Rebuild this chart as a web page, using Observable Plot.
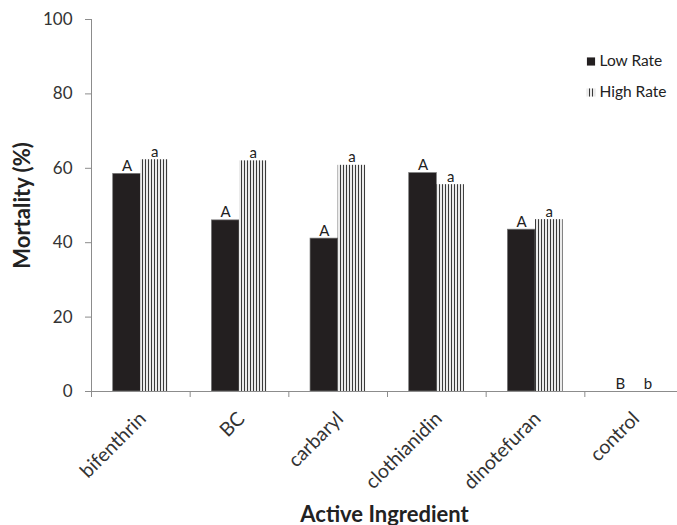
<!DOCTYPE html>
<html>
<head>
<meta charset="utf-8">
<script src="https://cdn.jsdelivr.net/npm/d3@7"></script>
<script src="https://cdn.jsdelivr.net/npm/@observablehq/plot@0.6"></script>
<style>
  html, body { margin: 0; padding: 0; background: white; }
</style>
</head>
<body>
<div id="chart"></div>
<script>
const categories = ["bifenthrin", "BC", "carbaryl", "clothianidin", "dinotefuran", "control"];
const lowRate = [58.5, 46.0, 41.1, 58.7, 43.5, 0];
const highRate = [62.3, 62.0, 60.8, 55.6, 46.2, 0];
const lowLetters = ["A", "A", "A", "A", "A", "B"];
const highLetters = ["a", "a", "a", "a", "a", "b"];
const yTicks = [0, 20, 40, 60, 80, 100];
const seriesNames = ["Low Rate", "High Rate"];

const data = categories.map((c, i) => ({
  category: c, low: lowRate[i], high: highRate[i],
  lowLetter: lowLetters[i], highLetter: highLetters[i]
}));

const W = 677, H = 525;
const xRange = [91, 683];
const pInner = 0.44;
const step = (xRange[1] - xRange[0]) / categories.length;
const half = step * (1 - pInner) / 2;
const axisColor = "#8c8c8c";
const textColor = "#333";

const chart = Plot.plot({
  width: W, height: H,
  marginLeft: 91, marginRight: 0, marginTop: 19, marginBottom: 134,
  style: { fontFamily: "Lato, 'Open Sans', sans-serif", background: "white", overflow: "visible" },
  x: { domain: categories, range: xRange, paddingInner: pInner, paddingOuter: pInner / 2, round: false, label: null },
  y: { domain: [0, 100], ticks: yTicks, label: null },
  marks: [
    Plot.barY(data, { x: "category", y: "low", fill: "#231f20", stroke: "#777", strokeWidth: 0.7, insetRight: half }),
    Plot.barY(data, { x: "category", y: "high", fill: "url(#hatch)", insetLeft: half }),
    Plot.frame({ anchor: "left", stroke: axisColor }),
    Plot.ruleY([0], { stroke: axisColor }),
    Plot.axisY({ ticks: yTicks, text: null, tickSize: 6, stroke: axisColor, label: null }),
    Plot.axisY({ ticks: yTicks, tickSize: 0, tickPadding: 19, fontSize: 17, fill: textColor, label: null }),
    Plot.axisX({ text: null, tickSize: 6, stroke: axisColor, dx: -step / 2, label: null }),
    Plot.axisX({ tickSize: 0, tickRotate: -45, tickPadding: 24, dx: 2, fontSize: 19.5, fill: textColor, label: null }),
    Plot.text(data, { x: "category", y: "low", text: "lowLetter", dx: -half / 2, dy: -3, lineAnchor: "bottom", fontSize: 15, fill: "#222" }),
    Plot.text(data, { x: "category", y: "high", text: "highLetter", dx: half / 2, dy: -3, lineAnchor: "bottom", fontSize: 15, fill: "#222" }),
    // legend
    Plot.dot([seriesNames[0]], { frameAnchor: "top-right", dx: -86.5, dy: 42, symbol: "square", r: 4.6, fill: "#231f20" }),
    Plot.dot([seriesNames[1]], { frameAnchor: "top-right", dx: -86.5, dy: 73, symbol: "square", r: 4.6, fill: "url(#hatch)" }),
    Plot.text([seriesNames[0]], { frameAnchor: "top-right", dx: -78, dy: 42, text: d => d, textAnchor: "start", lineAnchor: "middle", fontSize: 15.5, fill: "#222" }),
    Plot.text([seriesNames[1]], { frameAnchor: "top-right", dx: -78, dy: 73, text: d => d, textAnchor: "start", lineAnchor: "middle", fontSize: 15.5, fill: "#222" }),
    // axis titles
    Plot.text(["Mortality (%)"], { frameAnchor: "left", rotate: -90, dx: -69, dy: 0, text: d => d, textAnchor: "middle", lineAnchor: "middle", fontWeight: "bold", fontSize: 22, fill: "#222" }),
    Plot.text(["Active Ingredient"], { frameAnchor: "bottom", dy: 123, text: d => d, textAnchor: "middle", lineAnchor: "middle", fontWeight: "bold", fontSize: 22, fill: "#222" })
  ]
});

const ns = "http://www.w3.org/2000/svg";
const defs = document.createElementNS(ns, "defs");
const pat = document.createElementNS(ns, "pattern");
pat.setAttribute("id", "hatch");
pat.setAttribute("patternUnits", "userSpaceOnUse");
pat.setAttribute("width", "3");
pat.setAttribute("height", "4");
const bg = document.createElementNS(ns, "rect");
bg.setAttribute("width", "3"); bg.setAttribute("height", "4"); bg.setAttribute("fill", "white");
const ln = document.createElementNS(ns, "line");
ln.setAttribute("x1", "1.5"); ln.setAttribute("x2", "1.5");
ln.setAttribute("y1", "0"); ln.setAttribute("y2", "4");
ln.setAttribute("stroke", "#3a3a3a"); ln.setAttribute("stroke-width", "1.2");
pat.appendChild(bg); pat.appendChild(ln);
defs.appendChild(pat);
chart.insertBefore(defs, chart.firstChild);

document.getElementById("chart").appendChild(chart);
</script>
</body>
</html>
